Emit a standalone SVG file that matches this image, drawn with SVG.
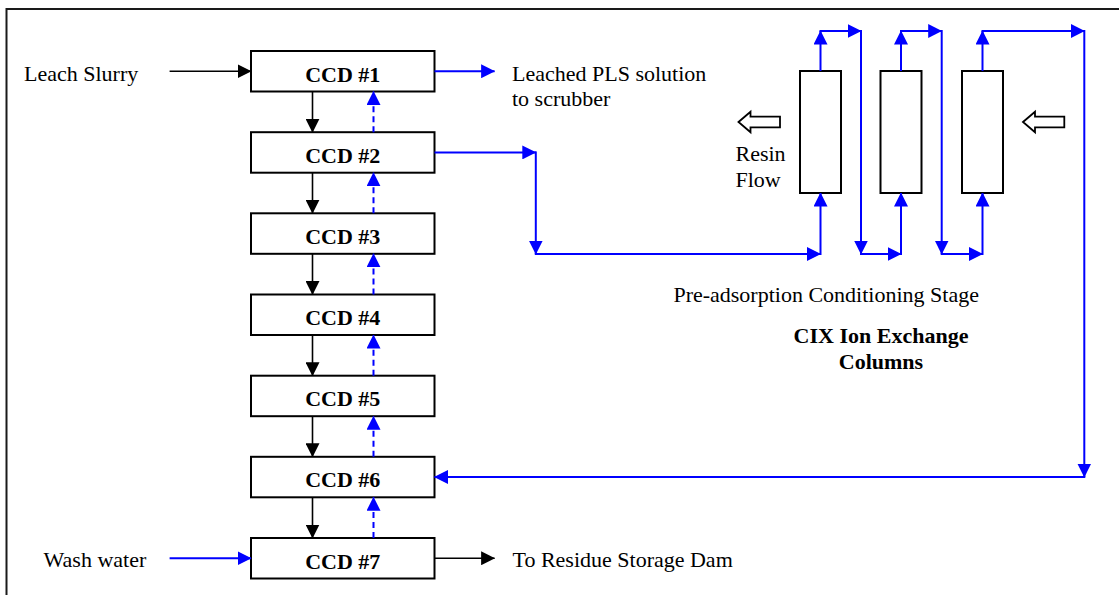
<svg xmlns="http://www.w3.org/2000/svg" width="1119" height="595" viewBox="0 0 1119 595">
<style>
  .box{fill:#fff;stroke:#000;stroke-width:2}
  .col{fill:#fff;stroke:#000;stroke-width:2}
  .lbl{font-family:"Liberation Serif","Times New Roman",serif;font-size:22px;fill:#000}
  .bold{font-weight:bold}
  .blk{stroke:#000;stroke-width:1.6;fill:none}
  .blu{stroke:#0000ff;stroke-width:2;fill:none}
  .dash{stroke-dasharray:6,4}
  .hollow{fill:#fff;stroke:#000;stroke-width:1.8}
</style>
<defs>
  <marker id="ab" viewBox="0 0 14 14" refX="13.5" refY="7" markerWidth="14" markerHeight="14" markerUnits="userSpaceOnUse" orient="auto">
    <path d="M0,0 L14,7 L0,14 Z" fill="#000"/>
  </marker>
  <marker id="au" viewBox="0 0 14 14" refX="13.5" refY="7" markerWidth="14" markerHeight="14" markerUnits="userSpaceOnUse" orient="auto">
    <path d="M0,0 L14,7 L0,14 Z" fill="#0000ff"/>
  </marker>
</defs>
<rect width="1119" height="595" fill="#fff"/>
<path d="M6.5,595 V9 H1119" fill="none" stroke="#1a1a1a" stroke-width="2"/>

<g id="ccd1"><rect class="box" x="251" y="51" width="183.5" height="40.5"/><text class="lbl bold" x="342.75" y="81.5" text-anchor="middle">CCD #1</text></g>
<g id="ccd2"><rect class="box" x="251" y="132.2" width="183.5" height="40.5"/><text class="lbl bold" x="342.75" y="162.7" text-anchor="middle">CCD #2</text></g>
<g id="ccd3"><rect class="box" x="251" y="213.3" width="183.5" height="40.5"/><text class="lbl bold" x="342.75" y="243.8" text-anchor="middle">CCD #3</text></g>
<g id="ccd4"><rect class="box" x="251" y="294.5" width="183.5" height="40.5"/><text class="lbl bold" x="342.75" y="325" text-anchor="middle">CCD #4</text></g>
<g id="ccd5"><rect class="box" x="251" y="375.7" width="183.5" height="40.5"/><text class="lbl bold" x="342.75" y="406.2" text-anchor="middle">CCD #5</text></g>
<g id="ccd6"><rect class="box" x="251" y="456.8" width="183.5" height="40.5"/><text class="lbl bold" x="342.75" y="487.3" text-anchor="middle">CCD #6</text></g>
<g id="ccd7"><rect class="box" x="251" y="538" width="183.5" height="40.5"/><text class="lbl bold" x="342.75" y="568.5" text-anchor="middle">CCD #7</text></g>

<g id="column1"><rect class="col" x="800" y="71" width="41" height="122"/></g>
<g id="column2"><rect class="col" x="880.5" y="71" width="41" height="122"/></g>
<g id="column3"><rect class="col" x="962" y="71" width="41" height="122"/></g>

<g id="resin-flow">
  <path class="hollow" d="M738.5,122 L750.5,111.7 L750.5,116.7 L780,116.7 L780,127.3 L750.5,127.3 L750.5,132.3 Z"/>
  <path class="hollow" d="M1023,122 L1035,111.7 L1035,116.7 L1064.3,116.7 L1064.3,127.3 L1035,127.3 L1035,132.3 Z"/>
  <text class="lbl" x="735.5" y="161">Resin</text>
  <text class="lbl" x="735.5" y="186.7">Flow</text>
</g>

<g id="labels">
  <text class="lbl" x="24" y="80.5">Leach Slurry</text>
  <text class="lbl" x="512" y="80.5">Leached PLS solution</text>
  <text class="lbl" x="512" y="106">to scrubber</text>
  <text class="lbl" x="43.6" y="567.3">Wash water</text>
  <text class="lbl" x="512.5" y="566.7">To Residue Storage Dam</text>
  <text class="lbl" x="673.4" y="302.3">Pre-adsorption Conditioning Stage</text>
  <text class="lbl bold" x="881" y="343.3" text-anchor="middle">CIX Ion Exchange</text>
  <text class="lbl bold" x="881" y="369.3" text-anchor="middle">Columns</text>
</g>

<g id="connectors">
  <!-- black -->
  <line class="blk" x1="169.6" y1="71.25" x2="251" y2="71.25" marker-end="url(#ab)"/>
  <line class="blk" x1="434.5" y1="558.25" x2="494.6" y2="558.25" marker-end="url(#ab)"/>
  <line class="blk" x1="312.5" y1="91.5" x2="312.5" y2="132.2" marker-end="url(#ab)"/>
  <line class="blk" x1="312.5" y1="172.7" x2="312.5" y2="213.3" marker-end="url(#ab)"/>
  <line class="blk" x1="312.5" y1="253.8" x2="312.5" y2="294.5" marker-end="url(#ab)"/>
  <line class="blk" x1="312.5" y1="335" x2="312.5" y2="375.7" marker-end="url(#ab)"/>
  <line class="blk" x1="312.5" y1="416.2" x2="312.5" y2="456.8" marker-end="url(#ab)"/>
  <line class="blk" x1="312.5" y1="497.3" x2="312.5" y2="538" marker-end="url(#ab)"/>
  <!-- blue dashed upflows -->
  <line class="blu dash" x1="373.5" y1="132.2" x2="373.5" y2="91.5" marker-end="url(#au)"/>
  <line class="blu dash" x1="373.5" y1="213.3" x2="373.5" y2="172.7" marker-end="url(#au)"/>
  <line class="blu dash" x1="373.5" y1="294.5" x2="373.5" y2="253.8" marker-end="url(#au)"/>
  <line class="blu dash" x1="373.5" y1="375.7" x2="373.5" y2="335" marker-end="url(#au)"/>
  <line class="blu dash" x1="373.5" y1="456.8" x2="373.5" y2="416.2" marker-end="url(#au)"/>
  <line class="blu dash" x1="373.5" y1="538" x2="373.5" y2="497.3" marker-end="url(#au)"/>
  <!-- blue solid -->
  <line class="blu" x1="169.6" y1="558.25" x2="251" y2="558.25" marker-end="url(#au)"/>
  <line class="blu" x1="434.5" y1="71.25" x2="494.6" y2="71.25" marker-end="url(#au)"/>
  <line class="blu" x1="434.5" y1="152.4" x2="535.8" y2="152.4" marker-end="url(#au)"/>
  <line class="blu" x1="535.8" y1="151.4" x2="535.8" y2="254" marker-end="url(#au)"/>
  <line class="blu" x1="534.8" y1="254" x2="820.5" y2="254" marker-end="url(#au)"/>
  <line class="blu" x1="820.5" y1="255" x2="820.5" y2="193" marker-end="url(#au)"/>
  <line class="blu" x1="820.5" y1="71" x2="820.5" y2="31" marker-end="url(#au)"/>
  <line class="blu" x1="819.5" y1="31" x2="861" y2="31" marker-end="url(#au)"/>
  <line class="blu" x1="861" y1="30" x2="861" y2="254" marker-end="url(#au)"/>
  <line class="blu" x1="860" y1="254" x2="901" y2="254" marker-end="url(#au)"/>
  <line class="blu" x1="901" y1="255" x2="901" y2="193" marker-end="url(#au)"/>
  <line class="blu" x1="901" y1="71" x2="901" y2="31" marker-end="url(#au)"/>
  <line class="blu" x1="900" y1="31" x2="941.7" y2="31" marker-end="url(#au)"/>
  <line class="blu" x1="941.7" y1="30" x2="941.7" y2="254" marker-end="url(#au)"/>
  <line class="blu" x1="940.7" y1="254" x2="982.5" y2="254" marker-end="url(#au)"/>
  <line class="blu" x1="982.5" y1="255" x2="982.5" y2="193" marker-end="url(#au)"/>
  <line class="blu" x1="982.5" y1="71" x2="982.5" y2="31" marker-end="url(#au)"/>
  <line class="blu" x1="981.5" y1="31" x2="1084.3" y2="31" marker-end="url(#au)"/>
  <line class="blu" x1="1084.3" y1="30" x2="1084.3" y2="477" marker-end="url(#au)"/>
  <line class="blu" x1="1085.3" y1="477" x2="434.5" y2="477" marker-end="url(#au)"/>
</g>
</svg>
